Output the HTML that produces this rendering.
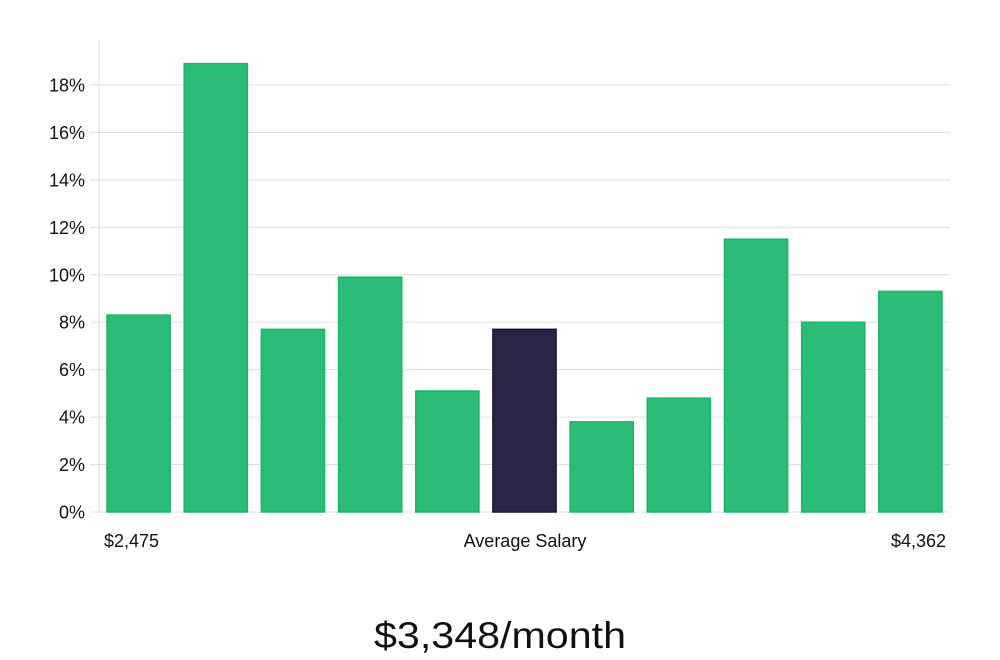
<!DOCTYPE html>
<html><head><meta charset="utf-8"><style>
html,body{margin:0;padding:0;background:#fff;width:1000px;height:660px;overflow:hidden}
svg text{font-family:"Liberation Sans","DejaVu Sans",sans-serif}
</style></head><body>
<svg id="chart" width="1000" height="660" viewBox="0 0 1000 660" xmlns="http://www.w3.org/2000/svg">
<g id="grid"></g>
<g id="yaxis"></g>
<g id="bars"></g>
<text x="104" y="547" font-size="18" fill="#111">$2,475</text>
<text x="525" y="547" font-size="18" fill="#111" text-anchor="middle">Average Salary</text>
<text x="946" y="547" font-size="18" fill="#111" text-anchor="end">$4,362</text>
<text x="500" y="648" font-size="37" fill="#111" text-anchor="middle" textLength="252" lengthAdjust="spacingAndGlyphs">$3,348/month</text>
</svg>
<script>
const values = [8.3, 18.9, 7.7, 9.9, 5.1, 7.7, 3.8, 4.8, 11.5, 8.0, 9.3];
const highlightIndex = 5;
const yTicks = [0, 2, 4, 6, 8, 10, 12, 14, 16, 18];
const ns = "http://www.w3.org/2000/svg";
const y0 = 512, pxPer = (512 - 85) / 18;
function y(v){ return y0 - v * pxPer; }
const left = 107, right = 942, n = values.length;
const step = (right - left + 14) / n, bw = step - 14;
function x(i){ return left + i * step; }
const grid = document.getElementById('grid');
const ya = document.getElementById('yaxis');
const axis = document.createElementNS(ns,'line');


axis.setAttribute('x1',99);axis.setAttribute('x2',99);axis.setAttribute('y1',40);axis.setAttribute('y2',512);
axis.setAttribute('stroke','#ddd');
ya.appendChild(axis);
yTicks.forEach(t=>{
  const l = document.createElementNS(ns,'line');
  
  
  l.setAttribute('x1',90);l.setAttribute('x2',950);l.setAttribute('y1',y(t));l.setAttribute('y2',y(t));
  l.setAttribute('stroke','#ddd');
  grid.appendChild(l);
  const tx = document.createElementNS(ns,'text');
  
  
  tx.setAttribute('x',85);tx.setAttribute('y',y(t)+6.5);
  tx.setAttribute('text-anchor','end');tx.setAttribute('font-size','18');tx.setAttribute('fill','#111');
  tx.textContent = t + '%';
  ya.appendChild(tx);
});
const bars = document.getElementById('bars');
values.forEach((v,i)=>{
  const r = document.createElementNS(ns,'rect');
  
  
  r.setAttribute('x',x(i));r.setAttribute('width',bw);
  r.setAttribute('y',y(v));r.setAttribute('height',y0-y(v));
  r.setAttribute('fill', i===highlightIndex ? '#2a2547' : '#2bbd77');
  r.setAttribute('stroke', i===highlightIndex ? '#17133a' : '#1db36b');
  r.setAttribute('stroke-width','1.5');
  bars.appendChild(r);
});
</script>
</body></html>
